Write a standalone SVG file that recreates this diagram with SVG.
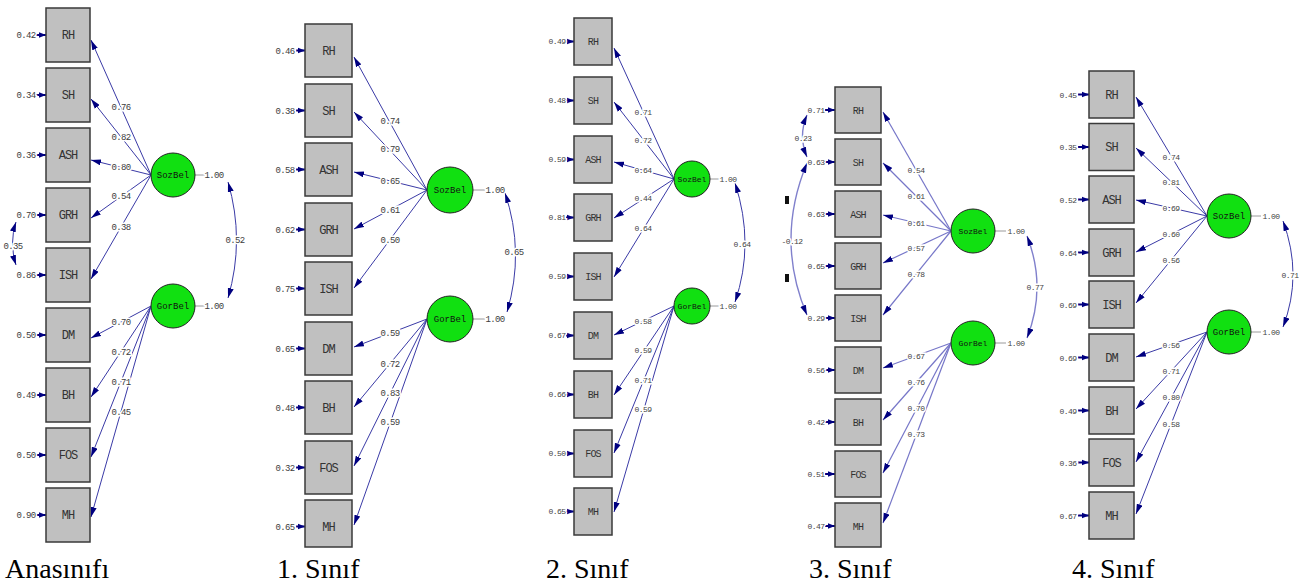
<svg xmlns="http://www.w3.org/2000/svg" width="1299" height="586" viewBox="0 0 1299 586">
<defs>
<style>
.bx{fill:#c0c0c0;stroke:#3a3a3a;stroke-width:1.5}
.lv{fill:#11e011;stroke:#222;stroke-width:1}
.ln{stroke:#3a3aa6;stroke-width:1;fill:none;marker-end:url(#ah)}
.lnl{stroke:#7676c8;stroke-width:1.2;fill:none;marker-end:url(#ah)}
.cv{stroke:#3a3aa6;stroke-width:1;fill:none;marker-start:url(#ah);marker-end:url(#ah)}
.cvl{stroke:#8080cc;stroke-width:1.4;fill:none;marker-start:url(#ah);marker-end:url(#ah)}
.er{stroke:#000080;stroke-width:2;marker-end:url(#ae)}
.vl{stroke:#9a9a9a;stroke-width:1}
.t{font-family:"Liberation Mono",monospace;font-size:12px;fill:#333;text-anchor:middle;letter-spacing:-1px}
.ts{font-family:"Liberation Mono",monospace;font-size:10px;fill:#333;text-anchor:middle;letter-spacing:-0.8px}
.lt{font-family:"Liberation Mono",monospace;font-size:9px;fill:#111;text-anchor:middle}
.lts{font-family:"Liberation Mono",monospace;font-size:8px;fill:#111;text-anchor:middle}
.v{font-family:"Liberation Mono",monospace;font-size:9px;fill:#3c3c3c;text-anchor:middle;letter-spacing:-0.6px;stroke:#fff;stroke-width:3px;paint-order:stroke}
.vs{font-family:"Liberation Mono",monospace;font-size:8px;fill:#444;text-anchor:middle;letter-spacing:-0.6px;stroke:#fff;stroke-width:3px;paint-order:stroke}
.cap{font-family:"Liberation Serif","Times New Roman",serif;font-size:28px;fill:#000}
</style>
<marker id="ah" viewBox="0 0 10 6" refX="10" refY="3" markerWidth="10" markerHeight="6.5" markerUnits="userSpaceOnUse" orient="auto-start-reverse"><path d="M0,0 L10,3 L0,6 z" fill="#000080"/></marker>
<marker id="ae" viewBox="0 0 10 8" refX="10" refY="4" markerWidth="7" markerHeight="7" markerUnits="userSpaceOnUse" orient="auto"><path d="M0,0 L10,4 L0,8 z" fill="#000080"/></marker>
</defs>
<rect width="1299" height="586" fill="#fff"/>

<!-- ============ Panel 1: Anasınıfı ============ -->
<g id="panel1">
<g id="p1-connectors">
<line class="er" x1="36" y1="35" x2="46" y2="35"/>
<line class="er" x1="36" y1="95" x2="46" y2="95"/>
<line class="er" x1="36" y1="155" x2="46" y2="155"/>
<line class="er" x1="36" y1="215" x2="46" y2="215"/>
<line class="er" x1="36" y1="275" x2="46" y2="275"/>
<line class="er" x1="36" y1="335" x2="46" y2="335"/>
<line class="er" x1="36" y1="395" x2="46" y2="395"/>
<line class="er" x1="36" y1="455" x2="46" y2="455"/>
<line class="er" x1="36" y1="515" x2="46" y2="515"/>
<line class="ln" x1="151" y1="175" x2="91" y2="40"/>
<line class="ln" x1="151" y1="175" x2="91" y2="99"/>
<line class="ln" x1="151" y1="175" x2="91" y2="160"/>
<line class="ln" x1="151" y1="175" x2="91" y2="218"/>
<line class="ln" x1="151" y1="175" x2="91" y2="279"/>
<line class="ln" x1="151" y1="306" x2="91" y2="338"/>
<line class="ln" x1="151" y1="306" x2="91" y2="397"/>
<line class="ln" x1="151" y1="306" x2="91" y2="457"/>
<line class="ln" x1="151" y1="306" x2="91" y2="517"/>
<line class="vl" x1="195" y1="175" x2="205" y2="175"/>
<line class="vl" x1="195" y1="306" x2="205" y2="306"/>
<path class="cv" d="M228,182 Q245,240 228,298"/>
<path class="cv" d="M16,222 Q9,243 16,265"/>
<text class="v" x="121" y="110">0.76</text>
<text class="v" x="121" y="140">0.82</text>
<text class="v" x="121" y="170">0.80</text>
<text class="v" x="121" y="199">0.54</text>
<text class="v" x="121" y="230">0.38</text>
<text class="v" x="121" y="325">0.70</text>
<text class="v" x="121" y="355">0.72</text>
<text class="v" x="121" y="385">0.71</text>
<text class="v" x="121" y="415">0.45</text>
<text class="v" x="214" y="178">1.00</text>
<text class="v" x="214" y="309">1.00</text>
<text class="v" x="235" y="243">0.52</text>
<text class="v" x="13" y="249">0.35</text>
</g>
<g id="p1-RH"><rect class="bx" x="46" y="8" width="44" height="54"/><text class="t" x="68" y="39">RH</text><text class="v" x="26" y="38">0.42</text></g>
<g id="p1-SH"><rect class="bx" x="46" y="68" width="44" height="54"/><text class="t" x="68" y="99">SH</text><text class="v" x="26" y="98">0.34</text></g>
<g id="p1-ASH"><rect class="bx" x="46" y="128" width="44" height="54"/><text class="t" x="68" y="159">ASH</text><text class="v" x="26" y="158">0.36</text></g>
<g id="p1-GRH"><rect class="bx" x="46" y="188" width="44" height="54"/><text class="t" x="68" y="219">GRH</text><text class="v" x="26" y="218">0.70</text></g>
<g id="p1-ISH"><rect class="bx" x="46" y="248" width="44" height="54"/><text class="t" x="68" y="279">ISH</text><text class="v" x="26" y="278">0.86</text></g>
<g id="p1-DM"><rect class="bx" x="46" y="308" width="44" height="54"/><text class="t" x="68" y="339">DM</text><text class="v" x="26" y="338">0.50</text></g>
<g id="p1-BH"><rect class="bx" x="46" y="368" width="44" height="54"/><text class="t" x="68" y="399">BH</text><text class="v" x="26" y="398">0.49</text></g>
<g id="p1-FOS"><rect class="bx" x="46" y="428" width="44" height="54"/><text class="t" x="68" y="459">FOS</text><text class="v" x="26" y="458">0.50</text></g>
<g id="p1-MH"><rect class="bx" x="46" y="488" width="44" height="54"/><text class="t" x="68" y="519">MH</text><text class="v" x="26" y="518">0.90</text></g>
<g id="p1-SozBel"><circle class="lv" cx="173" cy="175" r="22"/><text class="lt" x="173" y="178">SozBel</text></g>
<g id="p1-GorBel"><circle class="lv" cx="173" cy="306" r="22"/><text class="lt" x="173" y="309">GorBel</text></g>
<text class="cap" x="5" y="578">Anasınıfı</text>
</g>

<!-- ============ Panel 2: 1. Sınıf ============ -->
<g id="panel2">
<g id="p2-connectors">
<line class="er" x1="296" y1="50.5" x2="305" y2="50.5"/>
<line class="er" x1="296" y1="110.5" x2="305" y2="110.5"/>
<line class="er" x1="296" y1="169.5" x2="305" y2="169.5"/>
<line class="er" x1="296" y1="229.5" x2="305" y2="229.5"/>
<line class="er" x1="296" y1="288.5" x2="305" y2="288.5"/>
<line class="er" x1="296" y1="348.5" x2="305" y2="348.5"/>
<line class="er" x1="296" y1="407.5" x2="305" y2="407.5"/>
<line class="er" x1="296" y1="467.5" x2="305" y2="467.5"/>
<line class="er" x1="296" y1="526.5" x2="305" y2="526.5"/>
<line class="ln" x1="427" y1="190" x2="354" y2="57"/>
<line class="ln" x1="427" y1="190" x2="354" y2="112"/>
<line class="ln" x1="427" y1="190" x2="354" y2="172"/>
<line class="ln" x1="427" y1="190" x2="354" y2="229"/>
<line class="ln" x1="427" y1="190" x2="354" y2="288"/>
<line class="ln" x1="427" y1="319" x2="354" y2="347"/>
<line class="ln" x1="427" y1="319" x2="354" y2="407"/>
<line class="ln" x1="427" y1="319" x2="354" y2="466"/>
<line class="ln" x1="427" y1="319" x2="354" y2="525"/>
<line class="vl" x1="473" y1="190" x2="485" y2="190"/>
<line class="vl" x1="473" y1="319" x2="485" y2="319"/>
<path class="cv" d="M505,193 Q525,252 507,312"/>
<text class="v" x="390" y="124">0.74</text>
<text class="v" x="390" y="152">0.79</text>
<text class="v" x="390" y="184">0.65</text>
<text class="v" x="390" y="213">0.61</text>
<text class="v" x="390" y="243">0.50</text>
<text class="v" x="390" y="336">0.59</text>
<text class="v" x="390" y="367">0.72</text>
<text class="v" x="390" y="396">0.83</text>
<text class="v" x="390" y="425">0.59</text>
<text class="v" x="495" y="193">1.00</text>
<text class="v" x="495" y="322">1.00</text>
<text class="v" x="514" y="255">0.65</text>
</g>
<g id="p2-RH"><rect class="bx" x="305" y="24" width="47" height="53"/><text class="t" x="328.5" y="55">RH</text><text class="v" x="285" y="53.5">0.46</text></g>
<g id="p2-SH"><rect class="bx" x="305" y="84" width="47" height="53"/><text class="t" x="328.5" y="115">SH</text><text class="v" x="285" y="113.5">0.38</text></g>
<g id="p2-ASH"><rect class="bx" x="305" y="143" width="47" height="53"/><text class="t" x="328.5" y="174">ASH</text><text class="v" x="285" y="172.5">0.58</text></g>
<g id="p2-GRH"><rect class="bx" x="305" y="203" width="47" height="53"/><text class="t" x="328.5" y="234">GRH</text><text class="v" x="285" y="232.5">0.62</text></g>
<g id="p2-ISH"><rect class="bx" x="305" y="262" width="47" height="53"/><text class="t" x="328.5" y="293">ISH</text><text class="v" x="285" y="291.5">0.75</text></g>
<g id="p2-DM"><rect class="bx" x="305" y="322" width="47" height="53"/><text class="t" x="328.5" y="353">DM</text><text class="v" x="285" y="351.5">0.65</text></g>
<g id="p2-BH"><rect class="bx" x="305" y="381" width="47" height="53"/><text class="t" x="328.5" y="412">BH</text><text class="v" x="285" y="410.5">0.48</text></g>
<g id="p2-FOS"><rect class="bx" x="305" y="441" width="47" height="53"/><text class="t" x="328.5" y="472">FOS</text><text class="v" x="285" y="470.5">0.32</text></g>
<g id="p2-MH"><rect class="bx" x="305" y="500" width="47" height="47"/><text class="t" x="328.5" y="531">MH</text><text class="v" x="285" y="529.5">0.65</text></g>
<g id="p2-SozBel"><circle class="lv" cx="450" cy="190" r="23"/><text class="lt" x="450" y="193">SozBel</text></g>
<g id="p2-GorBel"><circle class="lv" cx="450" cy="319" r="23"/><text class="lt" x="450" y="322">GorBel</text></g>
<text class="cap" x="277" y="578">1. Sınıf</text>
</g>

<!-- ============ Panel 3: 2. Sınıf ============ -->
<g id="panel3">
<g id="p3-connectors">
<line class="er" x1="566" y1="41.5" x2="574" y2="41.5"/>
<line class="er" x1="566" y1="100.5" x2="574" y2="100.5"/>
<line class="er" x1="566" y1="159.5" x2="574" y2="159.5"/>
<line class="er" x1="566" y1="217.5" x2="574" y2="217.5"/>
<line class="er" x1="566" y1="276.5" x2="574" y2="276.5"/>
<line class="er" x1="566" y1="335.5" x2="574" y2="335.5"/>
<line class="er" x1="566" y1="394.5" x2="574" y2="394.5"/>
<line class="er" x1="566" y1="453.5" x2="574" y2="453.5"/>
<line class="er" x1="566" y1="511.5" x2="574" y2="511.5"/>
<line class="ln" x1="674" y1="179" x2="614" y2="48"/>
<line class="ln" x1="674" y1="179" x2="614" y2="102"/>
<line class="ln" x1="674" y1="179" x2="614" y2="162"/>
<line class="ln" x1="674" y1="179" x2="614" y2="218"/>
<line class="ln" x1="674" y1="179" x2="614" y2="277"/>
<line class="ln" x1="674" y1="306" x2="614" y2="335"/>
<line class="ln" x1="674" y1="306" x2="614" y2="395"/>
<line class="ln" x1="674" y1="306" x2="614" y2="453"/>
<line class="ln" x1="674" y1="306" x2="614" y2="512"/>
<line class="vl" x1="710" y1="179" x2="721" y2="179"/>
<line class="vl" x1="710" y1="306" x2="721" y2="306"/>
<path class="cv" d="M735,183 Q755,244 735,302"/>
<text class="vs" x="643" y="115">0.71</text>
<text class="vs" x="643" y="143">0.72</text>
<text class="vs" x="643" y="173">0.64</text>
<text class="vs" x="643" y="201">0.44</text>
<text class="vs" x="643" y="231">0.64</text>
<text class="vs" x="643" y="324">0.58</text>
<text class="vs" x="643" y="353">0.59</text>
<text class="vs" x="643" y="383">0.71</text>
<text class="vs" x="643" y="412">0.59</text>
<text class="vs" x="728" y="182">1.00</text>
<text class="vs" x="728" y="309">1.00</text>
<text class="vs" x="742" y="247">0.64</text>
</g>
<g id="p3-RH"><rect class="bx" x="574" y="18" width="38" height="47"/><text class="ts" x="593" y="45">RH</text><text class="vs" x="557" y="44">0.49</text></g>
<g id="p3-SH"><rect class="bx" x="574" y="77" width="38" height="47"/><text class="ts" x="593" y="104">SH</text><text class="vs" x="557" y="103">0.48</text></g>
<g id="p3-ASH"><rect class="bx" x="574" y="136" width="38" height="47"/><text class="ts" x="593" y="163">ASH</text><text class="vs" x="557" y="162">0.59</text></g>
<g id="p3-GRH"><rect class="bx" x="574" y="194" width="38" height="47"/><text class="ts" x="593" y="221">GRH</text><text class="vs" x="557" y="220">0.81</text></g>
<g id="p3-ISH"><rect class="bx" x="574" y="253" width="38" height="47"/><text class="ts" x="593" y="280">ISH</text><text class="vs" x="557" y="279">0.59</text></g>
<g id="p3-DM"><rect class="bx" x="574" y="312" width="38" height="47"/><text class="ts" x="593" y="339">DM</text><text class="vs" x="557" y="338">0.67</text></g>
<g id="p3-BH"><rect class="bx" x="574" y="371" width="38" height="47"/><text class="ts" x="593" y="398">BH</text><text class="vs" x="557" y="397">0.66</text></g>
<g id="p3-FOS"><rect class="bx" x="574" y="430" width="38" height="47"/><text class="ts" x="593" y="457">FOS</text><text class="vs" x="557" y="456">0.50</text></g>
<g id="p3-MH"><rect class="bx" x="574" y="488" width="38" height="47"/><text class="ts" x="593" y="515">MH</text><text class="vs" x="557" y="514">0.65</text></g>
<g id="p3-SozBel"><circle class="lv" cx="692" cy="179" r="18"/><text class="lts" x="692" y="182">SozBel</text></g>
<g id="p3-GorBel"><circle class="lv" cx="692" cy="306" r="18"/><text class="lts" x="692" y="309">GorBel</text></g>
<text class="cap" x="546" y="578">2. Sınıf</text>
</g>

<!-- ============ Panel 4: 3. Sınıf ============ -->
<g id="panel4">
<g id="p4-connectors">
<line class="er" x1="825" y1="110" x2="835" y2="110"/>
<line class="er" x1="825" y1="162" x2="835" y2="162"/>
<line class="er" x1="825" y1="214" x2="835" y2="214"/>
<line class="er" x1="825" y1="266" x2="835" y2="266"/>
<line class="er" x1="825" y1="318" x2="835" y2="318"/>
<line class="er" x1="825" y1="370" x2="835" y2="370"/>
<line class="er" x1="825" y1="422" x2="835" y2="422"/>
<line class="er" x1="825" y1="474" x2="835" y2="474"/>
<line class="er" x1="825" y1="526" x2="835" y2="526"/>
<line class="lnl" x1="951" y1="231" x2="883" y2="112"/>
<line class="lnl" x1="951" y1="231" x2="883" y2="163"/>
<line class="lnl" x1="951" y1="231" x2="883" y2="215"/>
<line class="lnl" x1="951" y1="231" x2="883" y2="263"/>
<line class="lnl" x1="951" y1="231" x2="883" y2="315"/>
<line class="lnl" x1="951" y1="343" x2="883" y2="368"/>
<line class="lnl" x1="951" y1="343" x2="883" y2="420"/>
<line class="lnl" x1="951" y1="343" x2="883" y2="473"/>
<line class="lnl" x1="951" y1="343" x2="883" y2="523"/>
<line class="vl" x1="995" y1="231" x2="1006" y2="231"/>
<line class="vl" x1="995" y1="343" x2="1006" y2="343"/>
<path class="cvl" d="M1027,236 Q1047,287 1027,338"/>
<path class="cvl" d="M807,115 Q798,136 807,157"/>
<path class="cvl" d="M807,163 Q775,240 807,315"/>
<rect x="785" y="196" width="4" height="8" fill="#111"/>
<rect x="785" y="274" width="4" height="8" fill="#111"/>
<text class="vs" x="916" y="173">0.54</text>
<text class="vs" x="916" y="199">0.61</text>
<text class="vs" x="916" y="226">0.61</text>
<text class="vs" x="916" y="251">0.57</text>
<text class="vs" x="916" y="277">0.78</text>
<text class="vs" x="916" y="359">0.67</text>
<text class="vs" x="916" y="385">0.76</text>
<text class="vs" x="916" y="411">0.70</text>
<text class="vs" x="916" y="437">0.73</text>
<text class="vs" x="1016" y="234">1.00</text>
<text class="vs" x="1016" y="346">1.00</text>
<text class="vs" x="1035" y="290">0.77</text>
<text class="vs" x="803" y="141">0.23</text>
<text class="vs" x="792" y="244">-0.12</text>
</g>
<g id="p4-RH"><rect class="bx" x="835" y="87" width="46" height="46"/><text class="ts" x="858" y="114">RH</text><text class="vs" x="816" y="113">0.71</text></g>
<g id="p4-SH"><rect class="bx" x="835" y="139" width="46" height="46"/><text class="ts" x="858" y="166">SH</text><text class="vs" x="816" y="165">0.63</text></g>
<g id="p4-ASH"><rect class="bx" x="835" y="191" width="46" height="46"/><text class="ts" x="858" y="218">ASH</text><text class="vs" x="816" y="217">0.63</text></g>
<g id="p4-GRH"><rect class="bx" x="835" y="243" width="46" height="46"/><text class="ts" x="858" y="270">GRH</text><text class="vs" x="816" y="269">0.65</text></g>
<g id="p4-ISH"><rect class="bx" x="835" y="295" width="46" height="46"/><text class="ts" x="858" y="322">ISH</text><text class="vs" x="816" y="321">0.29</text></g>
<g id="p4-DM"><rect class="bx" x="835" y="347" width="46" height="46"/><text class="ts" x="858" y="374">DM</text><text class="vs" x="816" y="373">0.56</text></g>
<g id="p4-BH"><rect class="bx" x="835" y="399" width="46" height="46"/><text class="ts" x="858" y="426">BH</text><text class="vs" x="816" y="425">0.42</text></g>
<g id="p4-FOS"><rect class="bx" x="835" y="451" width="46" height="46"/><text class="ts" x="858" y="478">FOS</text><text class="vs" x="816" y="477">0.51</text></g>
<g id="p4-MH"><rect class="bx" x="835" y="503" width="46" height="44"/><text class="ts" x="858" y="530">MH</text><text class="vs" x="816" y="529">0.47</text></g>
<g id="p4-SozBel"><circle class="lv" cx="973" cy="231" r="22"/><text class="lts" x="973" y="234">SozBel</text></g>
<g id="p4-GorBel"><circle class="lv" cx="973" cy="343" r="22"/><text class="lts" x="973" y="346">GorBel</text></g>
<text class="cap" x="809" y="578">3. Sınıf</text>
</g>

<!-- ============ Panel 5: 4. Sınıf ============ -->
<g id="panel5">
<g id="p5-connectors">
<line class="er" x1="1078" y1="94.5" x2="1089" y2="94.5"/>
<line class="er" x1="1078" y1="147" x2="1089" y2="147"/>
<line class="er" x1="1078" y1="199.5" x2="1089" y2="199.5"/>
<line class="er" x1="1078" y1="252.5" x2="1089" y2="252.5"/>
<line class="er" x1="1078" y1="304.5" x2="1089" y2="304.5"/>
<line class="er" x1="1078" y1="357.5" x2="1089" y2="357.5"/>
<line class="er" x1="1078" y1="410.5" x2="1089" y2="410.5"/>
<line class="er" x1="1078" y1="462.5" x2="1089" y2="462.5"/>
<line class="er" x1="1078" y1="515.5" x2="1089" y2="515.5"/>
<line class="ln" x1="1207" y1="216" x2="1136" y2="97"/>
<line class="ln" x1="1207" y1="216" x2="1136" y2="148"/>
<line class="ln" x1="1207" y1="216" x2="1136" y2="200"/>
<line class="ln" x1="1207" y1="216" x2="1136" y2="252"/>
<line class="ln" x1="1207" y1="216" x2="1136" y2="303"/>
<line class="ln" x1="1207" y1="332" x2="1136" y2="357"/>
<line class="ln" x1="1207" y1="332" x2="1136" y2="409"/>
<line class="ln" x1="1207" y1="332" x2="1136" y2="462"/>
<line class="ln" x1="1207" y1="332" x2="1136" y2="514"/>
<line class="vl" x1="1251" y1="216" x2="1261" y2="216"/>
<line class="vl" x1="1251" y1="332" x2="1261" y2="332"/>
<path class="cv" d="M1283,221 Q1303,275 1283,327"/>
<text class="vs" x="1171" y="160">0.74</text>
<text class="vs" x="1171" y="185">0.81</text>
<text class="vs" x="1171" y="211">0.69</text>
<text class="vs" x="1171" y="237">0.60</text>
<text class="vs" x="1171" y="263">0.56</text>
<text class="vs" x="1171" y="348">0.56</text>
<text class="vs" x="1171" y="374">0.71</text>
<text class="vs" x="1171" y="400">0.80</text>
<text class="vs" x="1171" y="427">0.58</text>
<text class="vs" x="1271" y="219">1.00</text>
<text class="vs" x="1271" y="335">1.00</text>
<text class="vs" x="1290" y="278">0.71</text>
</g>
<g id="p5-RH"><rect class="bx" x="1089" y="71" width="45" height="47"/><text class="t" x="1111.5" y="98.5">RH</text><text class="vs" x="1068" y="97.5">0.45</text></g>
<g id="p5-SH"><rect class="bx" x="1089" y="123.5" width="45" height="47"/><text class="t" x="1111.5" y="151">SH</text><text class="vs" x="1068" y="150">0.35</text></g>
<g id="p5-ASH"><rect class="bx" x="1089" y="176" width="45" height="47"/><text class="t" x="1111.5" y="203.5">ASH</text><text class="vs" x="1068" y="202.5">0.52</text></g>
<g id="p5-GRH"><rect class="bx" x="1089" y="229" width="45" height="47"/><text class="t" x="1111.5" y="256.5">GRH</text><text class="vs" x="1068" y="255.5">0.64</text></g>
<g id="p5-ISH"><rect class="bx" x="1089" y="281" width="45" height="47"/><text class="t" x="1111.5" y="308.5">ISH</text><text class="vs" x="1068" y="307.5">0.69</text></g>
<g id="p5-DM"><rect class="bx" x="1089" y="334" width="45" height="47"/><text class="t" x="1111.5" y="361.5">DM</text><text class="vs" x="1068" y="360.5">0.69</text></g>
<g id="p5-BH"><rect class="bx" x="1089" y="387" width="45" height="47"/><text class="t" x="1111.5" y="414.5">BH</text><text class="vs" x="1068" y="413.5">0.49</text></g>
<g id="p5-FOS"><rect class="bx" x="1089" y="439" width="45" height="47"/><text class="t" x="1111.5" y="466.5">FOS</text><text class="vs" x="1068" y="465.5">0.36</text></g>
<g id="p5-MH"><rect class="bx" x="1089" y="492" width="45" height="47"/><text class="t" x="1111.5" y="519.5">MH</text><text class="vs" x="1068" y="518.5">0.67</text></g>
<g id="p5-SozBel"><circle class="lv" cx="1229" cy="216" r="22"/><text class="lt" x="1229" y="219">SozBel</text></g>
<g id="p5-GorBel"><circle class="lv" cx="1229" cy="332" r="22"/><text class="lt" x="1229" y="335">GorBel</text></g>
<text class="cap" x="1072" y="578">4. Sınıf</text>
</g>
</svg>
